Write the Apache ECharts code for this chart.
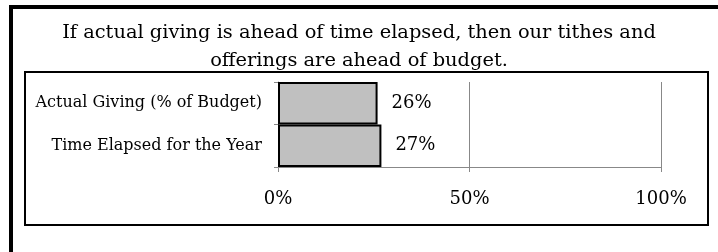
<!DOCTYPE html>
<html>
<head>
<meta charset="utf-8">
<script src="https://cdn.jsdelivr.net/npm/echarts@6/dist/echarts.min.js"></script>
<style>
    html, body { margin: 0; padding: 0; background: #fff; }
    #chart { width: 718px; height: 252px; }
</style>
</head>
<body>
<div id="chart"></div>
<script>
    // data
    var categories = ['Actual Giving (% of Budget)', 'Time Elapsed for the Year'];
    var values = [26, 27];
    var xTicks = [0, 50, 100];

    var font = 'DejaVu Serif';

    var chart = echarts.init(document.getElementById('chart'));
    chart.setOption({
        animation: false,
        backgroundColor: '#fff',
        title: {
            text: 'If actual giving is ahead of time elapsed, then our tithes and\nofferings are ahead of budget.',
            left: 'center',
            top: 14,
            textStyle: {
                fontFamily: font,
                fontSize: 19.4,
                fontWeight: 'normal',
                color: '#000',
                lineHeight: 28
            }
        },
        graphic: [
            // outer frame (only top and left edges fall inside the picture)
            { type: 'rect', shape: { x: 11, y: 7, width: 760, height: 300 }, style: { fill: 'none', stroke: '#000', lineWidth: 4 } },
            // inner chart box
            { type: 'rect', shape: { x: 25, y: 72, width: 683, height: 153 }, style: { fill: 'none', stroke: '#000', lineWidth: 2 } }
        ],
        grid: { left: 278, right: 57, top: 82, bottom: 85 },
        xAxis: {
            type: 'value',
            min: xTicks[0],
            max: xTicks[xTicks.length - 1],
            interval: 50,
            axisLine: { show: true, lineStyle: { color: '#888' } },
            axisTick: { show: true, length: 5, lineStyle: { color: '#888' } },
            splitLine: { show: true, lineStyle: { color: '#888' } },
            axisLabel: {
                formatter: '{value}%',
                fontFamily: font,
                fontSize: 18,
                color: '#000',
                margin: 23
            }
        },
        yAxis: {
            type: 'category',
            inverse: true,
            data: categories,
            axisLine: { show: true, lineStyle: { color: '#888' } },
            axisTick: { show: true, length: 4, lineStyle: { color: '#888' } },
            axisLabel: {
                fontFamily: font,
                fontSize: 16,
                color: '#000',
                margin: 16
            }
        },
        series: [{
            type: 'bar',
            data: values,
            barCategoryGap: '0%',
            itemStyle: { color: '#c0c0c0', borderColor: '#000', borderWidth: 2 },
            label: {
                show: true,
                position: 'right',
                distance: 14,
                formatter: '{c}%',
                fontFamily: font,
                fontSize: 18,
                color: '#000'
            }
        }]
    });
</script>
</body>
</html>
